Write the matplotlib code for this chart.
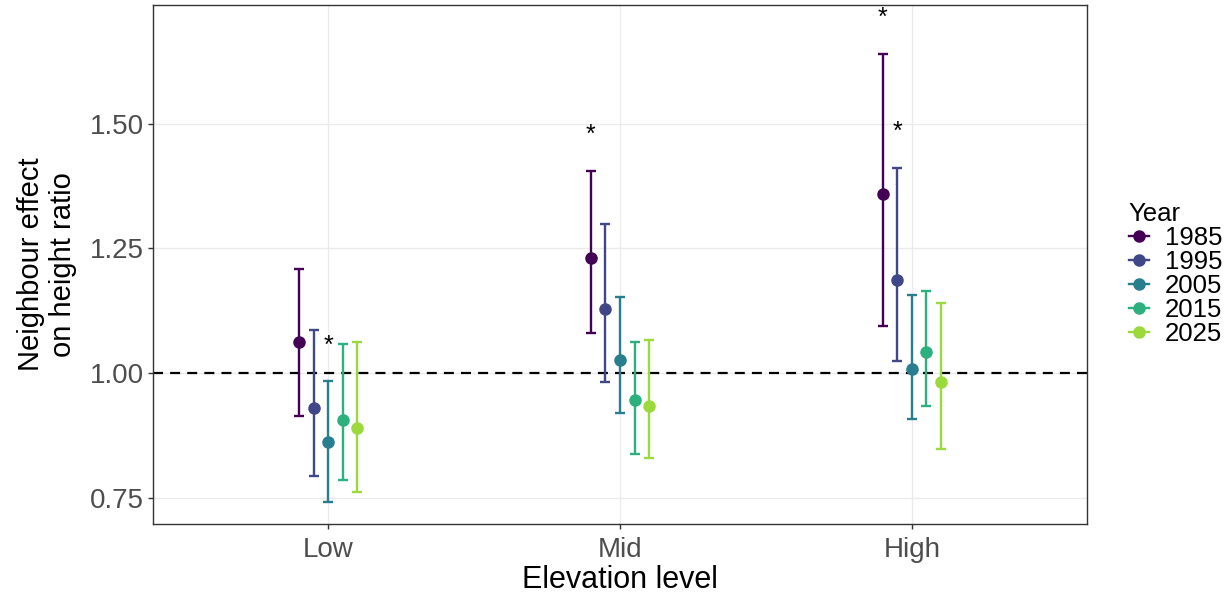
import matplotlib
matplotlib.use("Agg")
import matplotlib.pyplot as plt
from matplotlib.lines import Line2D
import numpy as np

plt.rcParams['font.family'] = ['Liberation Sans', 'DejaVu Sans']

levels = ["Low", "Mid", "High"]
years = ["1985", "1995", "2005", "2015", "2025"]
colors = [matplotlib.colormaps["viridis"](v) for v in np.linspace(0, 0.85, len(years))]

# estimates[year] -> values per level (Low, Mid, High)
est = {
    "1985": [1.062, 1.231, 1.358],
    "1995": [0.929, 1.128, 1.186],
    "2005": [0.861, 1.025, 1.008],
    "2015": [0.906, 0.946, 1.041],
    "2025": [0.889, 0.933, 0.981],
}
lower = {
    "1985": [0.914, 1.080, 1.095],
    "1995": [0.794, 0.982, 1.024],
    "2005": [0.741, 0.920, 0.907],
    "2015": [0.785, 0.838, 0.934],
    "2025": [0.761, 0.830, 0.848],
}
upper = {
    "1985": [1.209, 1.405, 1.640],
    "1995": [1.086, 1.299, 1.411],
    "2005": [0.983, 1.152, 1.156],
    "2015": [1.058, 1.062, 1.164],
    "2025": [1.063, 1.067, 1.140],
}
# significance stars: (year, level)
stars = [("2005", "Low"), ("1985", "Mid"), ("1985", "High"), ("1995", "High")]

fig = plt.figure(figsize=(12.32, 6.03), dpi=100)
ax = fig.add_axes([153/1232, 1-524/603, (1087-153)/1232, (524-5)/603])

x = np.arange(1, len(levels)+1)
offsets = np.linspace(-0.1, 0.1, len(years))

ax.axhline(1.0, color="black", lw=1.6, ls=(0, (4.5, 3.2)), zorder=2)

for i, y in enumerate(years):
    e = np.array(est[y]); lo = np.array(lower[y]); hi = np.array(upper[y])
    ax.errorbar(x + offsets[i], e, yerr=[e - lo, hi - e], fmt='o', color=colors[i],
                ms=8, elinewidth=1.7, capsize=3.8, capthick=1.7, zorder=3)

for (y, lv) in stars:
    i = years.index(y); j = levels.index(lv)
    ax.text(j + 1 + offsets[i], upper[y][j] + 0.072, "*", ha="center", va="center",
            fontsize=18, color="black", zorder=4)

ax.set_xlim(0.4, 3.6)
ax.set_ylim(0.697, 1.738)
ax.set_xticks(x)
ax.set_xticklabels(levels)
ax.set_yticks([0.75, 1.00, 1.25, 1.50])
ax.set_yticklabels(["0.75", "1.00", "1.25", "1.50"])
ax.grid(True, color="#EBEBEB", lw=1.0, zorder=0)
ax.set_axisbelow(True)
for s in ax.spines.values():
    s.set_color("#333333"); s.set_linewidth(1.0)
ax.tick_params(axis="both", colors="#333333", length=3.5, width=1.0,
               labelsize=20, labelcolor="#4D4D4D", pad=3)
ax.tick_params(axis="x", pad=6)

ax.set_xlabel("Elevation level", fontsize=22, color="black", labelpad=1)
ax.set_ylabel("Neighbour effect\non height ratio", fontsize=21, color="black",
              labelpad=9, linespacing=1.2)

handles = [Line2D([0], [0], color=c, marker='o', ms=8, lw=1.7) for c in colors]
leg = fig.legend(handles, years, title="Year", loc="upper left",
                 bbox_to_anchor=(1116/1232, 1-189/603), frameon=False,
                 fontsize=18.5, title_fontsize=18.5, handlelength=0.8,
                 handletextpad=0.6, labelspacing=0.0, borderpad=0.0)
leg._legend_box.align = "left"

fig.savefig("out.png", dpi=100)
